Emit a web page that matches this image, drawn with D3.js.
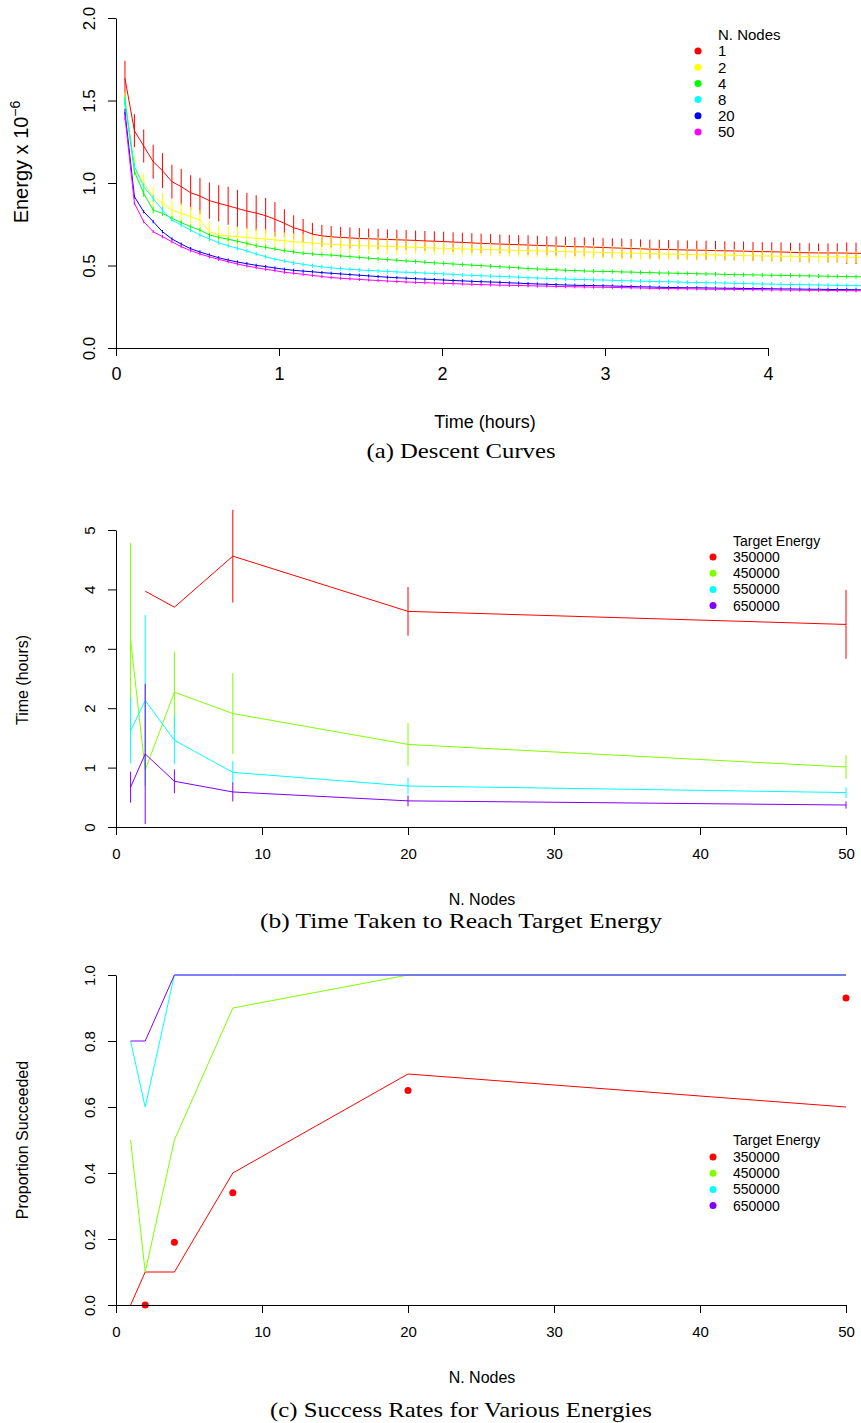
<!DOCTYPE html>
<html>
<head>
<meta charset="utf-8">
<script src="https://d3js.org/d3.v7.min.js"></script>
<style>
  body { margin: 0; background: #fff; }
  svg text { font-family: "Liberation Sans", Arial, Helvetica, sans-serif; fill: #000; }
  svg text.caption { font-family: "Liberation Serif", "Times New Roman", serif; }
</style>
</head>
<body>
<div id="chart"></div>
<script>
// ---------- (a) descent curves ----------
// sample times (hours)
var sampleTimes = [
  0.055,0.113,0.170,0.228,0.285,0.343,0.400,0.458,0.515,0.573,
  0.630,0.688,0.745,0.803,0.860,0.918,0.975,1.033,1.090,1.148,
  1.205,1.263,1.320,1.378,1.435,1.493,1.550,1.608,1.665,1.723,
  1.780,1.838,1.895,1.953,2.010,2.068,2.125,2.183,2.240,2.298,
  2.355,2.413,2.470,2.528,2.585,2.643,2.700,2.758,2.815,2.873,
  2.930,2.988,3.045,3.103,3.160,3.218,3.275,3.333,3.390,3.448,
  3.505,3.563,3.620,3.678,3.735,3.793,3.850,3.908,3.965,4.023,
  4.080,4.138,4.195,4.253,4.310,4.368,4.425,4.483,4.540,4.598
];
var nodeLabels = ["1", "2", "4", "8", "20", "50"];
var nodeColors = ["#FF0000", "#FFFF00", "#00FF00", "#00FFFF", "#0000FF", "#FF00FF"];

// mean energy x 1e-6 and error half-widths, one array per node count
var energyN1 = [
  1.634,1.317,1.224,1.129,1.075,1.008,0.978,0.941,0.921,0.893,
  0.877,0.862,0.846,0.830,0.818,0.802,0.780,0.756,0.729,0.712,
  0.690,0.680,0.674,0.670,0.667,0.664,0.662,0.660,0.658,0.656,
  0.654,0.652,0.649,0.647,0.645,0.642,0.640,0.637,0.634,0.632,
  0.630,0.628,0.626,0.624,0.622,0.620,0.618,0.616,0.614,0.613,
  0.611,0.609,0.607,0.605,0.603,0.601,0.599,0.598,0.597,0.595,
  0.594,0.593,0.592,0.590,0.589,0.588,0.587,0.585,0.584,0.583,
  0.582,0.580,0.578,0.577,0.576,0.576,0.576,0.575,0.574,0.574
];
var errN1 = [
  0.107,0.100,0.100,0.103,0.106,0.102,0.108,0.106,0.110,0.110,
  0.110,0.115,0.112,0.110,0.108,0.108,0.105,0.085,0.075,0.070,
  0.068,0.066,0.065,0.064,0.064,0.063,0.062,0.062,0.061,0.061,
  0.061,0.060,0.060,0.060,0.060,0.059,0.059,0.059,0.059,0.058,
  0.058,0.057,0.058,0.059,0.058,0.057,0.058,0.058,0.057,0.058,
  0.058,0.057,0.058,0.059,0.058,0.057,0.058,0.058,0.057,0.058,
  0.058,0.057,0.058,0.059,0.058,0.057,0.058,0.058,0.057,0.058,
  0.058,0.057,0.058,0.058,0.057,0.058,0.058,0.065,0.065,0.065
];
var energyN2 = [
  1.520,1.100,0.998,0.917,0.877,0.836,0.816,0.796,0.776,0.705,
  0.685,0.679,0.674,0.670,0.665,0.660,0.655,0.650,0.644,0.640,
  0.636,0.632,0.628,0.625,0.622,0.620,0.619,0.618,0.616,0.614,
  0.612,0.610,0.608,0.606,0.604,0.602,0.600,0.599,0.598,0.596,
  0.595,0.593,0.591,0.590,0.588,0.587,0.585,0.584,0.583,0.582,
  0.581,0.579,0.578,0.576,0.575,0.574,0.572,0.570,0.569,0.568,
  0.567,0.566,0.565,0.564,0.563,0.562,0.560,0.559,0.558,0.557,
  0.556,0.556,0.555,0.554,0.553,0.552,0.552,0.551,0.550,0.550
];
var errN2 = [
  0.030,0.060,0.060,0.060,0.060,0.060,0.060,0.060,0.060,0.060,
  0.060,0.060,0.060,0.060,0.060,0.060,0.050,0.050,0.050,0.050,
  0.050,0.050,0.050,0.050,0.050,0.050,0.050,0.050,0.050,0.050,
  0.050,0.040,0.040,0.040,0.040,0.040,0.040,0.040,0.040,0.040,
  0.040,0.040,0.040,0.040,0.040,0.040,0.040,0.040,0.040,0.040,
  0.040,0.040,0.040,0.040,0.040,0.040,0.035,0.035,0.035,0.035,
  0.035,0.035,0.035,0.035,0.035,0.035,0.035,0.035,0.035,0.035,
  0.035,0.035,0.035,0.035,0.035,0.035,0.035,0.035,0.035,0.035
];
var energyN4 = [
  1.500,1.070,0.937,0.836,0.816,0.786,0.760,0.735,0.715,0.685,
  0.671,0.659,0.647,0.634,0.620,0.610,0.600,0.590,0.582,0.574,
  0.570,0.566,0.563,0.558,0.554,0.549,0.544,0.540,0.536,0.532,
  0.528,0.524,0.520,0.516,0.513,0.509,0.506,0.502,0.499,0.496,
  0.492,0.489,0.486,0.482,0.479,0.477,0.474,0.471,0.469,0.467,
  0.465,0.464,0.463,0.461,0.460,0.458,0.457,0.455,0.454,0.453,
  0.452,0.450,0.449,0.448,0.446,0.445,0.444,0.443,0.442,0.441,
  0.440,0.439,0.438,0.437,0.436,0.435,0.434,0.433,0.432,0.431
];
var errN4 = [
  0.030,0.020,0.020,0.020,0.015,0.015,0.013,0.013,0.013,0.013,
  0.013,0.013,0.013,0.013,0.013,0.013,0.013,0.013,0.013,0.013,
  0.013,0.013,0.013,0.013,0.013,0.013,0.013,0.013,0.013,0.013,
  0.013,0.013,0.013,0.013,0.013,0.013,0.013,0.013,0.013,0.013,
  0.013,0.013,0.013,0.013,0.013,0.013,0.013,0.013,0.013,0.013,
  0.013,0.013,0.013,0.013,0.013,0.013,0.013,0.013,0.013,0.013,
  0.013,0.013,0.013,0.013,0.013,0.013,0.013,0.013,0.013,0.013,
  0.013,0.013,0.013,0.013,0.013,0.013,0.013,0.013,0.013,0.013
];
var energyN8 = [
  1.490,1.100,0.978,0.907,0.836,0.776,0.745,0.715,0.685,0.661,
  0.638,0.620,0.604,0.588,0.570,0.553,0.538,0.527,0.516,0.507,
  0.499,0.492,0.486,0.481,0.477,0.473,0.470,0.467,0.464,0.461,
  0.459,0.457,0.454,0.452,0.449,0.446,0.443,0.440,0.438,0.436,
  0.434,0.432,0.429,0.426,0.424,0.422,0.420,0.418,0.416,0.415,
  0.413,0.412,0.410,0.408,0.407,0.405,0.404,0.402,0.401,0.400,
  0.398,0.397,0.396,0.395,0.394,0.392,0.391,0.389,0.388,0.387,
  0.386,0.385,0.384,0.383,0.382,0.381,0.380,0.379,0.378,0.377
];
var errN8 = [
  0.030,0.020,0.020,0.020,0.020,0.013,0.013,0.013,0.013,0.013,
  0.013,0.013,0.013,0.013,0.013,0.013,0.013,0.013,0.013,0.013,
  0.013,0.013,0.013,0.013,0.013,0.013,0.013,0.013,0.013,0.013,
  0.013,0.013,0.013,0.013,0.013,0.013,0.013,0.013,0.013,0.013,
  0.013,0.013,0.013,0.013,0.013,0.013,0.013,0.013,0.013,0.013,
  0.013,0.013,0.013,0.013,0.013,0.013,0.013,0.013,0.013,0.013,
  0.013,0.013,0.013,0.013,0.013,0.013,0.013,0.013,0.013,0.013,
  0.013,0.013,0.013,0.013,0.013,0.013,0.013,0.013,0.013,0.013
];
var energyN20 = [
  1.430,0.917,0.826,0.766,0.705,0.661,0.630,0.602,0.582,0.564,
  0.547,0.533,0.521,0.511,0.501,0.493,0.485,0.477,0.471,0.466,
  0.462,0.457,0.453,0.449,0.445,0.441,0.437,0.433,0.429,0.426,
  0.423,0.420,0.417,0.415,0.412,0.409,0.407,0.404,0.402,0.400,
  0.398,0.395,0.393,0.390,0.388,0.386,0.384,0.382,0.380,0.379,
  0.378,0.377,0.376,0.374,0.373,0.371,0.370,0.368,0.367,0.366,
  0.365,0.365,0.364,0.363,0.362,0.362,0.361,0.360,0.360,0.359,
  0.358,0.358,0.357,0.356,0.356,0.355,0.354,0.354,0.353,0.353
];
var errN20 = [
  0.020,0.010,0.010,0.010,0.010,0.010,0.010,0.010,0.010,0.010,
  0.010,0.010,0.010,0.010,0.010,0.010,0.010,0.010,0.010,0.010,
  0.010,0.010,0.010,0.010,0.010,0.010,0.010,0.010,0.010,0.010,
  0.010,0.010,0.010,0.010,0.010,0.010,0.010,0.010,0.010,0.010,
  0.010,0.010,0.010,0.010,0.010,0.010,0.010,0.010,0.010,0.010,
  0.010,0.010,0.010,0.010,0.010,0.010,0.010,0.010,0.010,0.010,
  0.010,0.010,0.010,0.010,0.010,0.010,0.010,0.010,0.010,0.010,
  0.010,0.010,0.010,0.010,0.010,0.010,0.010,0.010,0.010,0.010
];
var energyN50 = [
  1.400,0.877,0.766,0.705,0.675,0.644,0.614,0.590,0.570,0.553,
  0.537,0.523,0.509,0.497,0.487,0.477,0.469,0.459,0.453,0.447,
  0.440,0.433,0.427,0.423,0.419,0.416,0.412,0.409,0.406,0.403,
  0.400,0.398,0.396,0.394,0.392,0.390,0.388,0.386,0.384,0.383,
  0.381,0.380,0.379,0.377,0.376,0.375,0.373,0.372,0.371,0.370,
  0.369,0.368,0.367,0.366,0.365,0.364,0.362,0.361,0.360,0.360,
  0.359,0.358,0.357,0.356,0.356,0.355,0.354,0.354,0.353,0.352,
  0.352,0.351,0.351,0.350,0.350,0.349,0.348,0.348,0.347,0.347
];
var errN50 = [
  0.020,0.010,0.010,0.010,0.010,0.010,0.010,0.010,0.010,0.010,
  0.010,0.010,0.010,0.010,0.010,0.010,0.010,0.010,0.010,0.010,
  0.010,0.010,0.010,0.010,0.010,0.010,0.010,0.010,0.010,0.010,
  0.010,0.010,0.010,0.010,0.010,0.010,0.010,0.010,0.010,0.010,
  0.010,0.010,0.010,0.010,0.010,0.010,0.010,0.010,0.010,0.010,
  0.010,0.010,0.010,0.010,0.010,0.010,0.010,0.010,0.010,0.010,
  0.010,0.010,0.010,0.010,0.010,0.010,0.010,0.010,0.010,0.010,
  0.010,0.010,0.010,0.010,0.010,0.010,0.010,0.010,0.010,0.010
];

// ---------- (b) time to target, (c) success rates ----------
var nodeCounts = [1, 2, 4, 8, 20, 50];
var targetLabels = ["350000", "450000", "550000", "650000"];
var targetColors = ["#FF0000", "#80FF00", "#00FFFF", "#8000FF"];

var time350 = [null, 3.97, 3.70, 4.56, 3.63, 3.41];
var terr350 = [0, 0, 0, 0.78, 0.41, 0.58];
var time450 = [3.15, 0.96, 2.27, 1.91, 1.39, 1.01];
var terr450 = [1.63, 0, 0.68, 0.68, 0.36, 0.20];
var time550 = [1.62, 2.13, 1.46, 0.92, 0.69, 0.58];
var terr550 = [0.55, 1.44, 0.40, 0.19, 0.14, 0.09];
var time650 = [0.67, 1.23, 0.77, 0.59, 0.44, 0.37];
var terr650 = [0.26, 1.18, 0.20, 0.16, 0.09, 0.06];

var succ350 = [0.0, 0.1, 0.1, 0.4, 0.7, 0.6];
var succ450 = [0.5, 0.1, 0.5, 0.9, 1.0, 1.0];
var succ550 = [0.8, 0.6, 1.0, 1.0, 1.0, 1.0];
var succ650 = [0.8, 0.8, 1.0, 1.0, 1.0, 1.0];
// red dots for 350000
var dotNodes = [2, 4, 8, 20, 50];
var dotSucc = [0.0, 0.19, 0.34, 0.65, 0.93];

// ---------- svg ----------
var width = 861, height = 1423;
var svg = d3.select("#chart").append("svg")
  .attr("width", width)
  .attr("height", height)
  .style("background", "#fff");

// scales
var xA = d3.scaleLinear().domain([0, 4]).range([116, 768]);
var yA = d3.scaleLinear().domain([0, 2]).range([348, 18]);
var xB = d3.scaleLinear().domain([0, 50]).range([116, 846]);
var yB = d3.scaleLinear().domain([0, 5]).range([827, 530]);
var yC = d3.scaleLinear().domain([0, 1]).range([1305, 975]);

function bottomAxis(scale, yPos, ticks, fontSize, pad) {
  var g = svg.append("g")
    .attr("transform", "translate(0," + yPos + ")")
    .call(d3.axisBottom(scale).tickValues(ticks).tickFormat(d3.format("d"))
      .tickSize(8).tickSizeOuter(0).tickPadding(pad));
  g.attr("font-size", null).attr("font-family", null);
  g.selectAll("text").style("font-size", fontSize + "px");
  g.selectAll("path, line").attr("stroke", "#000");
}

function leftAxis(scale, ticks, fmt, fontSize, offset) {
  var g = svg.append("g")
    .attr("transform", "translate(116,0)")
    .call(d3.axisLeft(scale).tickValues(ticks).tickFormat(fmt)
      .tickSize(8).tickSizeOuter(0));
  g.attr("font-size", null).attr("font-family", null);
  g.selectAll("path, line").attr("stroke", "#000");
  // R style: labels parallel to the axis
  g.selectAll("text")
    .attr("transform", "rotate(-90)")
    .attr("x", 0)
    .attr("y", -offset)
    .attr("dy", "0.36em")
    .attr("text-anchor", "middle")
    .style("font-size", fontSize + "px");
}

function yTitle(txt, cy, fontSize) {
  return svg.append("text")
    .attr("transform", "translate(28," + cy + ") rotate(-90)")
    .attr("text-anchor", "middle")
    .style("font-size", fontSize + "px")
    .text(txt);
}

function xTitle(txt, cx, baseline, fontSize) {
  svg.append("text")
    .attr("x", cx).attr("y", baseline)
    .attr("text-anchor", "middle")
    .style("font-size", fontSize + "px")
    .text(txt);
}

// captions are set in a wide serif (LaTeX look), so stretch to the measured width
function caption(txt, baseline, len) {
  svg.append("text")
    .attr("class", "caption")
    .attr("x", 461).attr("y", baseline)
    .attr("text-anchor", "middle")
    .attr("textLength", len)
    .attr("lengthAdjust", "spacingAndGlyphs")
    .style("font-size", "22px")
    .text(txt);
}

function legend(title, labels, colors, x, titleY, rowY, step, fontSize) {
  var lg = svg.append("g");
  lg.append("text")
    .attr("x", x + 20).attr("y", titleY)
    .attr("dy", "0.36em")
    .style("font-size", fontSize + "px")
    .text(title);
  labels.forEach(function(l, i) {
    lg.append("circle")
      .attr("cx", x).attr("cy", rowY + i * step)
      .attr("r", 3.5)
      .attr("fill", colors[i]);
    lg.append("text")
      .attr("x", x + 20).attr("y", rowY + i * step)
      .attr("dy", "0.36em")
      .style("font-size", fontSize + "px")
      .text(l);
  });
}

// ================= (a) =================
var descent = [
  { mean: energyN1, err: errN1 },
  { mean: energyN2, err: errN2 },
  { mean: energyN4, err: errN4 },
  { mean: energyN8, err: errN8 },
  { mean: energyN20, err: errN20 },
  { mean: energyN50, err: errN50 }
];

var lineA = d3.line()
  .x(function(d) { return xA(d[0]); })
  .y(function(d) { return yA(d[1]); });

descent.forEach(function(s, k) {
  var pts = sampleTimes.map(function(t, i) { return [t, s.mean[i], s.err[i]]; });
  var g = svg.append("g");
  g.append("path")
    .datum(pts)
    .attr("d", lineA)
    .attr("fill", "none")
    .attr("stroke", nodeColors[k])
    .attr("stroke-width", 1);
  g.selectAll("line").data(pts).enter().append("line")
    .attr("x1", function(d) { return xA(d[0]); })
    .attr("x2", function(d) { return xA(d[0]); })
    .attr("y1", function(d) { return yA(d[1] - d[2]); })
    .attr("y2", function(d) { return yA(d[1] + d[2]); })
    .attr("stroke", nodeColors[k])
    .attr("stroke-width", 1);
});

bottomAxis(xA, 348, [0, 1, 2, 3, 4], 18, 11);
leftAxis(yA, [0, 0.5, 1, 1.5, 2], d3.format(".1f"), 17, 27);
xTitle("Time (hours)", 485, 428, 18);
var ytA = yTitle("Energy x 10", 162, 20);
ytA.append("tspan").attr("dy", -8).style("font-size", "14px").text("\u22126");
legend("N. Nodes", nodeLabels, nodeColors, 698, 35, 51, 16.2, 15);
caption("(a) Descent Curves", 458, 189);

// ================= (b) =================
var timeSeries = [
  { v: time350, e: terr350 },
  { v: time450, e: terr450 },
  { v: time550, e: terr550 },
  { v: time650, e: terr650 }
];
var lineB = d3.line()
  .defined(function(d) { return d[1] != null; })
  .x(function(d) { return xB(d[0]); })
  .y(function(d) { return d[2](d[1]); });

timeSeries.forEach(function(s, k) {
  var pts = nodeCounts.map(function(n, i) { return [n, s.v[i], yB, s.e[i]]; });
  var g = svg.append("g");
  g.append("path")
    .datum(pts)
    .attr("d", lineB)
    .attr("fill", "none")
    .attr("stroke", targetColors[k])
    .attr("stroke-width", 1);
  g.selectAll("line").data(pts.filter(function(d) { return d[1] != null && d[3] > 0; }))
    .enter().append("line")
    .attr("x1", function(d) { return xB(d[0]); })
    .attr("x2", function(d) { return xB(d[0]); })
    .attr("y1", function(d) { return yB(d[1] - d[3]); })
    .attr("y2", function(d) { return yB(d[1] + d[3]); })
    .attr("stroke", targetColors[k])
    .attr("stroke-width", 1);
});

bottomAxis(xB, 827, [0, 10, 20, 30, 40, 50], 15, 13);
leftAxis(yB, [0, 1, 2, 3, 4, 5], d3.format("d"), 15, 26);
xTitle("N. Nodes", 482, 905, 16);
yTitle("Time (hours)", 680, 16);
legend("Target Energy", targetLabels, targetColors, 713, 541, 557, 16.2, 14);
caption("(b) Time Taken to Reach Target Energy", 928, 402);

// ================= (c) =================
var succSeries = [succ350, succ450, succ550, succ650];
succSeries.forEach(function(s, k) {
  var pts = nodeCounts.map(function(n, i) { return [n, s[i], yC]; });
  svg.append("path")
    .datum(pts)
    .attr("d", lineB)
    .attr("fill", "none")
    .attr("stroke", targetColors[k])
    .attr("stroke-width", 1);
});

svg.append("g").selectAll("circle")
  .data(dotNodes.map(function(n, i) { return [n, dotSucc[i]]; }))
  .enter().append("circle")
  .attr("cx", function(d) { return xB(d[0]); })
  .attr("cy", function(d) { return yC(d[1]); })
  .attr("r", 3.5)
  .attr("fill", "#FF0000");

bottomAxis(xB, 1305, [0, 10, 20, 30, 40, 50], 15, 13);
leftAxis(yC, [0, 0.2, 0.4, 0.6, 0.8, 1], d3.format(".1f"), 15, 26);
xTitle("N. Nodes", 482, 1383, 16);
yTitle("Proportion Succeeded", 1140, 16);
legend("Target Energy", targetLabels, targetColors, 713, 1140, 1157, 16.2, 14);
caption("(c) Success Rates for Various Energies", 1417, 382);
</script>
</body>
</html>
